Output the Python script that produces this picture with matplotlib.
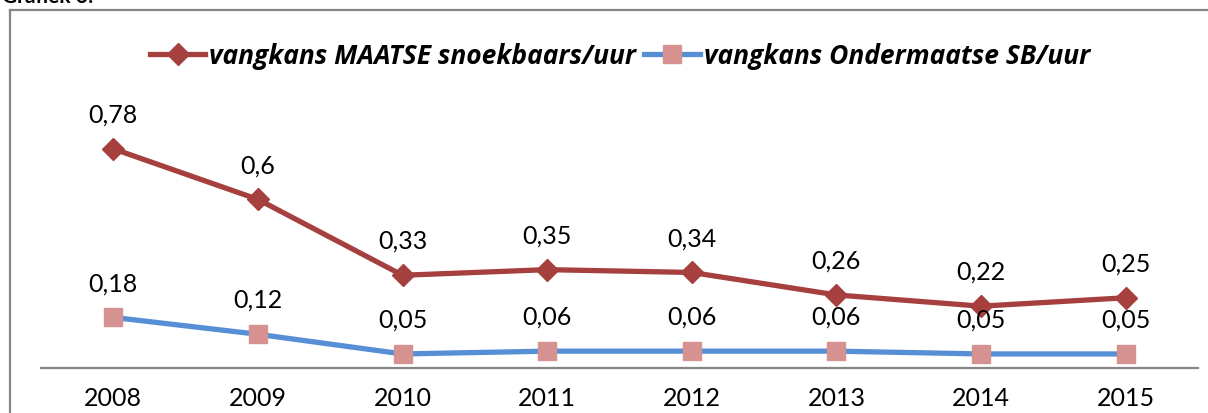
import matplotlib.pyplot as plt
from matplotlib.lines import Line2D

jaren = ['2008', '2009', '2010', '2011', '2012', '2013', '2014', '2015']
maatse = [0.78, 0.6, 0.33, 0.35, 0.34, 0.26, 0.22, 0.25]
ondermaatse = [0.18, 0.12, 0.05, 0.06, 0.06, 0.06, 0.05, 0.05]

W, H = 1208, 414
plt.rcParams['font.family'] = ['Lato', 'DejaVu Sans']

fig = plt.figure(figsize=(W / 100, H / 100), dpi=100)
ax = fig.add_axes([41 / W, (H - 369) / H, (1198 - 41) / W, (369 - 88) / H])

x = list(range(len(jaren)))
rood = '#A5403E'
blauw = '#578FD6'
roze = '#D69290'

ax.plot(x, maatse, color=rood, lw=3.8, marker='D', ms=11, mfc=rood, mec=rood,
        label='vangkans MAATSE snoekbaars/uur', zorder=3)
ax.plot(x, ondermaatse, color=blauw, lw=3.8, marker='s', ms=13, mfc=roze, mec=roze,
        label='vangkans Ondermaatse SB/uur', zorder=3)

def fmt(v):
    return ('%g' % v).replace('.', ',')

for xi, v in zip(x, maatse):
    ax.annotate(fmt(v), (xi, v), xytext=(0, 25), textcoords='offset points',
                ha='center', va='center', fontsize=18)
for xi, v in zip(x, ondermaatse):
    ax.annotate(fmt(v), (xi, v), xytext=(0, 25), textcoords='offset points',
                ha='center', va='center', fontsize=18)

ax.set_xlim(-0.5, len(jaren) - 0.5)
ax.set_ylim(0, 1.0)
ax.set_xticks(x)
ax.set_xticklabels(jaren, fontsize=18)
ax.tick_params(axis='x', length=0, pad=13)
ax.set_yticks([])
for s in ['top', 'right', 'left']:
    ax.spines[s].set_visible(False)
ax.spines['bottom'].set_color('#868686')
ax.spines['bottom'].set_linewidth(1.6)

fig.legend(loc='center', bbox_to_anchor=(620 / W, 1 - 57 / H), ncol=2, frameon=False,
           prop={'family': ['Open Sans', 'DejaVu Sans'], 'weight': 'bold',
                 'style': 'italic', 'size': 19},
           handlelength=2.1, handletextpad=0.15, columnspacing=0.3)

# kader rond de grafiek
fig.add_artist(Line2D([10 / W, 10 / W], [0, 1 - 11 / H], transform=fig.transFigure,
                      color='#868686', lw=1.6))
fig.add_artist(Line2D([10 / W, 1.0], [1 - 11 / H, 1 - 11 / H], transform=fig.transFigure,
                      color='#868686', lw=1.6))

fig.text(2 / W, 1 - 7 / H, 'Grafiek 6:', fontsize=15, fontweight='bold', va='bottom', ha='left')

fig.savefig('out.png', dpi=100)
